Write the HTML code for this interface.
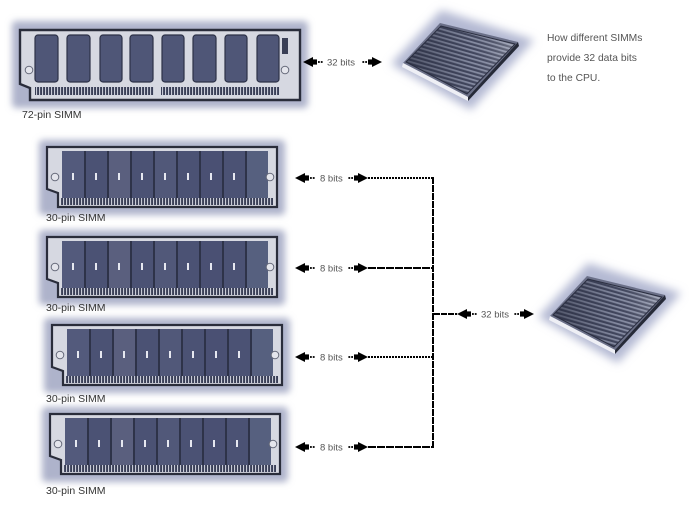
<!DOCTYPE html>
<html><head><meta charset="utf-8"><style>
html,body{margin:0;padding:0;background:#fff;}
svg{display:block;}
text{font-family:"Liberation Sans",sans-serif;}
</style></head><body>
<svg width="689" height="528" viewBox="0 0 689 528" xmlns="http://www.w3.org/2000/svg">
<defs>
  <filter id="blur" x="-20%" y="-40%" width="140%" height="180%"><feGaussianBlur stdDeviation="3.5"/></filter>
  <filter id="blur2" x="-40%" y="-50%" width="180%" height="200%"><feGaussianBlur stdDeviation="4.5"/></filter>
  <pattern id="pins" width="3" height="10" patternUnits="userSpaceOnUse">
    <rect width="3" height="10" fill="#3a3f57"/><rect x="1" width="1.1" height="10" fill="#c9ccd8"/>
  </pattern>
  <pattern id="stripes" width="4" height="4" patternUnits="userSpaceOnUse" patternTransform="rotate(16)">
    <rect width="4" height="4" fill="#454a62"/><rect width="4" height="1.8" fill="#9096ad"/>
  </pattern>
  <linearGradient id="cpuShade" x1="0" y1="0" x2="1" y2="0">
    <stop offset="0" stop-color="#1e2233" stop-opacity="0.55"/>
    <stop offset="0.6" stop-color="#1e2233" stop-opacity="0.1"/>
    <stop offset="1" stop-color="#ffffff" stop-opacity="0.25"/>
  </linearGradient>
  <g id="la"><polygon points="0,0 10,-5 10,5" fill="#000"/><rect x="9" y="-2.6" width="5" height="5.2" fill="#000"/><rect x="15" y="-0.9" width="1.8" height="1.8" fill="#000"/><rect x="17.8" y="-0.9" width="1.8" height="1.8" fill="#000"/></g>
  <g id="ra"><polygon points="0,0 -10,-5 -10,5" fill="#000"/><rect x="-14" y="-2.6" width="5" height="5.2" fill="#000"/><rect x="-16.8" y="-0.9" width="1.8" height="1.8" fill="#000"/><rect x="-19.6" y="-0.9" width="1.8" height="1.8" fill="#000"/></g>

  <g id="simm30">
    <rect x="-8" y="-7" width="246" height="75" rx="4" fill="#aeb3cb" filter="url(#blur)"/>
    <path d="M0,0 H230 V60 H11 V46 L0,42 Z" fill="#d6d8e1" stroke="#2a2d3b" stroke-width="2.2"/>
    <rect x="15" y="4" width="206" height="47" fill="#4b5274"/>
    <rect x="15" y="4" width="23" height="47" fill="#535a7c"/>
    <rect x="61" y="4" width="23" height="47" fill="#5a5f7e"/>
    <rect x="107" y="4" width="23" height="47" fill="#515879"/>
    <rect x="153" y="4" width="23" height="47" fill="#4a5073"/>
    <rect x="199" y="4" width="22" height="47" fill="#56607f"/>
    <g fill="#2e3349">
      <rect x="37" y="4" width="2" height="47"/><rect x="60" y="4" width="2" height="47"/><rect x="83" y="4" width="2" height="47"/>
      <rect x="106" y="4" width="2" height="47"/><rect x="129" y="4" width="2" height="47"/><rect x="152" y="4" width="2" height="47"/>
      <rect x="175" y="4" width="2" height="47"/><rect x="198" y="4" width="2" height="47"/>
    </g>
    <g fill="#e6e8f0">
      <rect x="25" y="26" width="2" height="7"/><rect x="48" y="26" width="2" height="7"/><rect x="71" y="26" width="2" height="7"/>
      <rect x="94" y="26" width="2" height="7"/><rect x="117" y="26" width="2" height="7"/><rect x="140" y="26" width="2" height="7"/>
      <rect x="163" y="26" width="2" height="7"/><rect x="186" y="26" width="2" height="7"/>
    </g>
    <rect x="14" y="51" width="212" height="7" fill="url(#pins)"/>
    <circle cx="8" cy="30" r="3.8" fill="#e4e5ec" stroke="#666a7a" stroke-width="1"/>
    <circle cx="223" cy="30" r="3.8" fill="#e4e5ec" stroke="#666a7a" stroke-width="1"/>
  </g>

  <g id="cpu">
    <polygon points="-12,1 38,-53 131,-23 68,47" fill="#b4b9d3" filter="url(#blur2)"/>
    <polygon points="0,0 37,-40 115,-21 65,34" fill="#6b7088"/>
    <polygon points="0,0 65,34 65,38 -1,4" fill="#eeeff5"/>
    <polygon points="65,34 115,-21 116,-17 65,38" fill="#262a38"/>
    <polygon points="3,-1 38,-37 112,-19 64,31" fill="url(#stripes)"/>
    <polygon points="3,-1 38,-37 112,-19 64,31" fill="url(#cpuShade)"/>
    <polygon points="3,-1 38,-37 112,-19 64,31" fill="none" stroke="#2a2e40" stroke-width="1"/>
  </g>
</defs>

<rect width="689" height="528" fill="#fff"/>

<!-- 72-pin SIMM -->
<g transform="translate(20,30)">
  <rect x="-8" y="-9" width="296" height="87" rx="4" fill="#aeb3cb" filter="url(#blur)"/>
  <path d="M0,0 H280 V70 H10 V58 L0,54 Z" fill="#d6d8e1" stroke="#2a2d3b" stroke-width="2.4"/>
  <g fill="#4f5677" stroke="#2c3147" stroke-width="1.2">
    <rect x="15" y="5" width="23" height="47" rx="3"/>
    <rect x="47" y="5" width="23" height="47" rx="3"/>
    <rect x="80" y="5" width="22" height="47" rx="3"/>
    <rect x="110" y="5" width="23" height="47" rx="3"/>
    <rect x="142" y="5" width="22" height="47" rx="3"/>
    <rect x="173" y="5" width="23" height="47" rx="3"/>
    <rect x="205" y="5" width="22" height="47" rx="3"/>
    <rect x="237" y="5" width="22" height="47" rx="3"/>
  </g>
  <rect x="262" y="8" width="6" height="16" fill="#3a3f56"/>
  <rect x="15" y="57" width="119" height="8" fill="url(#pins)"/>
  <rect x="141" y="57" width="118" height="8" fill="url(#pins)"/>
  <circle cx="9" cy="40" r="3.8" fill="#e4e5ec" stroke="#666a7a" stroke-width="1"/>
  <circle cx="265" cy="40" r="3.8" fill="#e4e5ec" stroke="#666a7a" stroke-width="1"/>
</g>
<text x="22" y="118" font-size="10.5" fill="#333">72-pin SIMM</text>

<!-- top connector -->
<use href="#la" x="303" y="62"/>
<text x="327" y="65.5" font-size="9.5" fill="#555">32 bits</text>
<use href="#ra" x="382" y="62"/>

<!-- top CPU -->
<use href="#cpu" x="403" y="63"/>

<text x="547" y="41" font-size="10.3" fill="#555">How different SIMMs</text>
<text x="547" y="61" font-size="10.3" fill="#555">provide 32 data bits</text>
<text x="547" y="81" font-size="10.3" fill="#555">to the CPU.</text>

<!-- 30-pin SIMMs -->
<use href="#simm30" x="47" y="147"/>
<text x="46" y="221" font-size="10.5" fill="#333">30-pin SIMM</text>
<use href="#simm30" x="47" y="237"/>
<text x="46" y="311" font-size="10.5" fill="#333">30-pin SIMM</text>
<use href="#simm30" x="52" y="325"/>
<text x="46" y="402" font-size="10.5" fill="#333">30-pin SIMM</text>
<use href="#simm30" x="50" y="414"/>
<text x="46" y="494" font-size="10.5" fill="#333">30-pin SIMM</text>

<!-- 8 bit connectors -->
<g font-size="9.5" fill="#555">
  <use href="#la" x="295" y="178"/><text x="320" y="181.5">8 bits</text><use href="#ra" x="368" y="178"/>
  <use href="#la" x="295" y="268"/><text x="320" y="271.5">8 bits</text><use href="#ra" x="368" y="268"/>
  <use href="#la" x="295" y="357"/><text x="320" y="360.5">8 bits</text><use href="#ra" x="368" y="357"/>
  <use href="#la" x="295" y="447"/><text x="320" y="450.5">8 bits</text><use href="#ra" x="368" y="447"/>
</g>
<g stroke="#000" stroke-width="2" fill="none">
  <line x1="368" y1="178" x2="433" y2="178" stroke-dasharray="2 1"/>
  <line x1="368" y1="268" x2="433" y2="268" stroke-dasharray="8 1"/>
  <line x1="368" y1="357" x2="433" y2="357" stroke-dasharray="2 1"/>
  <line x1="368" y1="447" x2="433" y2="447" stroke-dasharray="8 1"/>
  <line x1="433" y1="177" x2="433" y2="448" stroke-dasharray="7 1"/>
  <line x1="434" y1="314" x2="457" y2="314" stroke-dasharray="6 1"/>
</g>
<use href="#la" x="457" y="314"/>
<text x="481" y="317.5" font-size="9.5" fill="#555">32 bits</text>
<use href="#ra" x="534" y="314"/>

<!-- bottom CPU -->
<use href="#cpu" x="550" y="316"/>
</svg>
</body></html>
